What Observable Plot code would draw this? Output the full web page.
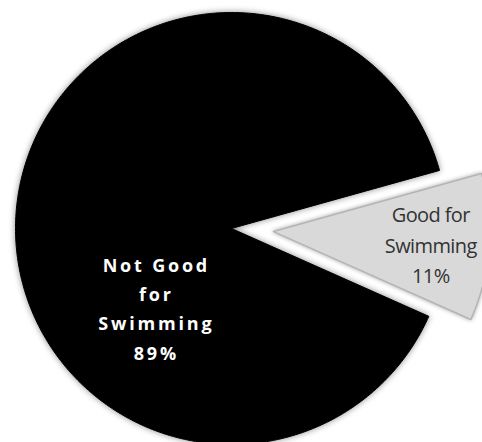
<!DOCTYPE html>
<html><head><meta charset="utf-8">
<script src="https://cdn.jsdelivr.net/npm/d3@7"></script>
<script src="https://cdn.jsdelivr.net/npm/@observablehq/plot@0.6"></script>
<style>body{margin:0;background:#fff}</style>
</head><body><div id="chart"></div>
<script>
const categories = ["Good for Swimming", "Not Good for Swimming"];
const percents = [11, 89];
const labelTexts = ["Good for\nSwimming\n11%", "Not Good\nfor\nSwimming\n89%"];

const W = 482, H = 442, cx = 231, cy = 228, R = 216;
const startDeg = 74.4;
const data = categories.map((c, i) => ({category: c, value: percents[i], label: labelTexts[i]}));
const pie = d3.pie().sort(null).value(d => d.value)
  .startAngle(startDeg * Math.PI / 180).endAngle(startDeg * Math.PI / 180 + 2 * Math.PI);
const arcs = pie(data);
const explode = {"Good for Swimming": 0.195, "Not Good for Swimming": 0};
const labelPlace = {"Good for Swimming": {r: 0.73, turn: 0}, "Not Good for Swimming": {r: 0.505, turn: -50}};

const pts = [];
const labels = [];
arcs.forEach(a => {
  const c = a.data.category;
  const mid = (a.startAngle + a.endAngle) / 2;
  const ox = explode[c] * Math.sin(mid), oy = explode[c] * Math.cos(mid);
  pts.push({category: c, x: ox, y: oy});
  const n = Math.ceil((a.endAngle - a.startAngle) / (Math.PI / 180)) + 1;
  for (let k = 0; k <= n; k++) {
    const t = a.startAngle + (a.endAngle - a.startAngle) * k / n;
    pts.push({category: c, x: ox + Math.sin(t), y: oy + Math.cos(t)});
  }
  pts.push({category: c, x: ox, y: oy});
  const lt = mid + labelPlace[c].turn * Math.PI / 180;
  labels.push({category: c, label: a.data.label, x: ox + labelPlace[c].r * Math.sin(lt), y: oy + labelPlace[c].r * Math.cos(lt)});
});

const plot = Plot.plot({
  width: W, height: H, margin: 0,
  x: {domain: [(0 - cx) / R, (W - cx) / R], axis: null},
  y: {domain: [-(H - cy) / R, cy / R], axis: null},
  marks: [
    Plot.line(pts, {filter: d => d.category === "Not Good for Swimming", x: "x", y: "y", fill: "#000", stroke: "#000", strokeWidth: 1}),
    Plot.line(pts, {filter: d => d.category === "Good for Swimming", x: "x", y: "y", fill: "#d9d9d9", stroke: "#b5b5b5", strokeWidth: 1.5}),
    Plot.text(labels, {filter: d => d.category === "Not Good for Swimming", x: "x", y: "y", text: "label", fill: "#fff", fontSize: 18, fontWeight: "bold", lineHeight: 1.63, fontFamily: "Open Sans"}),
    Plot.text(labels, {filter: d => d.category === "Good for Swimming", x: "x", y: "y", text: "label", fill: "#333", fontSize: 20, lineHeight: 1.52, fontFamily: "Open Sans"})
  ]
});
document.getElementById("chart").appendChild(plot);
const paths = d3.select(plot).selectAll('g[aria-label="line"]').nodes();
if (paths[0]) paths[0].style.filter = "drop-shadow(0 0 3px rgba(0,0,0,0.45))";
if (paths[1]) paths[1].style.filter = "drop-shadow(0 0 2px rgba(0,0,0,0.35))";
const texts = d3.select(plot).selectAll('g[aria-label="text"]').nodes();
if (texts[0]) { texts[0].style.letterSpacing = "2.8px"; texts[0].setAttribute("transform", "translate(1.4,0)"); }
if (texts[1]) { texts[1].style.letterSpacing = "-0.6px"; }
</script>
</body></html>
